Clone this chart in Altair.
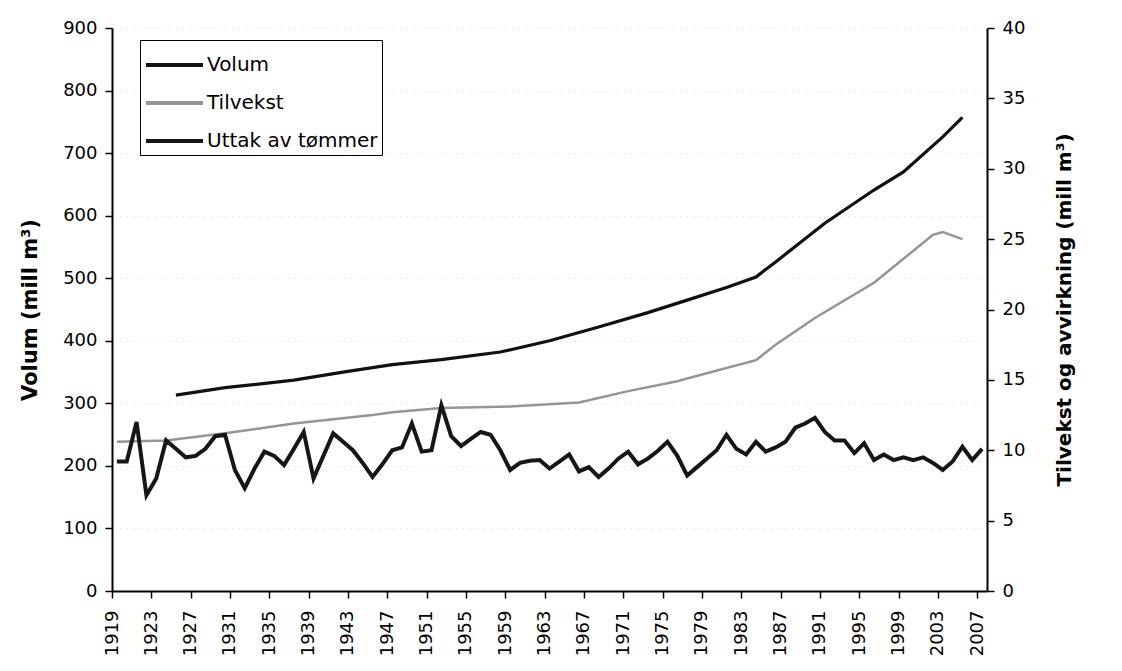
import altair as alt
import pandas as pd

# ---- data ----
uttak_years = list(range(1919, 2008))
uttak_values = [
    9.2, 9.2, 12.0, 6.8, 8.0, 10.7, 10.1, 9.5, 9.6, 10.1,   # 1919-1928
    11.0, 11.1, 8.6, 7.3, 8.7, 9.9, 9.6, 8.95, 10.1, 11.3,  # 1929-1938
    8.0, 9.6, 11.2, 10.6, 10.0, 9.1, 8.1, 9.0, 10.0, 10.2,  # 1939-1948
    11.9, 9.9, 10.0, 13.2, 11.0, 10.3, 10.8, 11.3, 11.1, 10.0,  # 1949-1958
    8.6, 9.1, 9.25, 9.3, 8.7, 9.2, 9.7, 8.5, 8.8, 8.1,      # 1959-1968
    8.7, 9.4, 9.9, 9.0, 9.4, 9.95, 10.6, 9.6, 8.2, 8.8,     # 1969-1978
    9.4, 10.0, 11.1, 10.1, 9.7, 10.6, 9.9, 10.2, 10.6, 11.6,  # 1979-1988
    11.9, 12.3, 11.3, 10.7, 10.7, 9.8, 10.5, 9.3, 9.7, 9.3,   # 1989-1998
    9.5, 9.3, 9.5, 9.1, 8.6, 9.2, 10.25, 9.3, 10.1,           # 1999-2007
]

tilvekst_years = [1919, 1924, 1930, 1937, 1945, 1947, 1952, 1959, 1966, 1971,
                  1976, 1977, 1984, 1986, 1990, 1996, 2002, 2003, 2005]
tilvekst_values = [10.6, 10.7, 11.2, 11.9, 12.5, 12.7, 13.0, 13.1, 13.4, 14.2,
                   14.9, 15.1, 16.4, 17.5, 19.4, 21.9, 25.3, 25.5, 25.0]

volum_years = [1925, 1930, 1937, 1942, 1947, 1952, 1958, 1963, 1968, 1973,
               1977, 1981, 1984, 1986, 1991, 1996, 1999, 2003, 2005]
volum_values = [313, 325, 337, 350, 362, 370, 382, 400, 422, 445,
                465, 485, 502, 526, 588, 641, 670, 726, 757]

series_names = ["Volum", "Tilvekst", "Uttak av tømmer"]
series_colors = ["#111111", "#959595", "#161616"]

x_ticks = [1918.5 + 4 * k for k in range(23)]  # labelled 1919, 1923, ..., 2007

# ---- tables ----
df_vol = pd.DataFrame({"year": volum_years, "value": volum_values, "series": "Volum"})
df_til = pd.DataFrame({"year": tilvekst_years, "value": tilvekst_values, "series": "Tilvekst"})
df_utt = pd.DataFrame({"year": uttak_years, "value": uttak_values, "series": "Uttak av tømmer"})

FONT = "DejaVu Sans"

x_enc = alt.X(
    "year:Q",
    scale=alt.Scale(domain=[1918.5, 2007.5], nice=False, zero=False),
    axis=alt.Axis(
        values=x_ticks,
        labelExpr="format(datum.value + 0.5, 'd')",
        labelAngle=270,
        labelAlign="right",
        labelBaseline="middle",
        labelFontSize=18,
        labelPadding=12,
        tickSize=7,
        tickColor="black",
        tickWidth=1.5,
        domainColor="black",
        domainWidth=2,
        grid=False,
        title=None,
        labelOverlap=False,
    ),
)

color_enc = alt.Color(
    "series:N",
    scale=alt.Scale(domain=series_names, range=series_colors),
    legend=alt.Legend(
        title=None,
        orient="none",
        legendX=28,
        legendY=12,
        symbolType="M-1,0L2,0",
        symbolSize=1444,
        symbolStrokeWidth=4,
        labelFontSize=20,
        labelFont=FONT,
        labelColor="black",
        labelOffset=21,
        rowPadding=7,
        padding=4,
        strokeColor="black",
        fillColor="white",
        labelLimit=300,
    ),
)

left_axis = alt.Axis(
    values=list(range(0, 1000, 100)),
    labelFontSize=18,
    labelPadding=8,
    tickSize=7,
    tickColor="black",
    tickWidth=1.5,
    domainColor="black",
    domainWidth=2,
    title="Volum (mill m³)",
    titleFontSize=21,
    titleFontWeight="bold",
    titlePadding=22,
    grid=True,
    gridColor="#e6e6e6",
    gridDash=[2, 5],
    gridWidth=1,
)

right_axis = alt.Axis(
    orient="right",
    values=list(range(0, 45, 5)),
    labelFontSize=18,
    labelPadding=8,
    tickSize=7,
    tickColor="black",
    tickWidth=1.5,
    domainColor="black",
    domainWidth=2,
    title="Tilvekst og avvirkning (mill m³)",
    titleFontSize=20,
    titleFontWeight="bold",
    titleAngle=270,
    titlePadding=50,
    grid=False,
)

vol_layer = alt.Chart(df_vol).mark_line(strokeWidth=3.2).encode(
    x=x_enc,
    y=alt.Y("value:Q", scale=alt.Scale(domain=[0, 900], nice=False), axis=left_axis),
    color=color_enc,
)

til_layer = alt.Chart(df_til).mark_line(strokeWidth=2.5).encode(
    x=x_enc,
    y=alt.Y("value:Q", scale=alt.Scale(domain=[0, 40], nice=False), axis=right_axis),
    color=color_enc,
)

utt_layer = alt.Chart(df_utt).mark_line(strokeWidth=4, strokeJoin="miter").encode(
    x=x_enc,
    y=alt.Y("value:Q", scale=alt.Scale(domain=[0, 40], nice=False), axis=right_axis),
    color=color_enc,
)

chart = (
    alt.layer(vol_layer, alt.layer(til_layer, utt_layer))
    .resolve_scale(y="independent")
    .properties(
        width=875,
        height=563,
        autosize=alt.AutoSizeParams(type="none"),
        padding={"left": 104, "top": 20, "right": 127, "bottom": 76},
        background="white",
    )
    .configure(font=FONT)
    .configure_axis(labelColor="black", titleColor="black", labelFont=FONT, titleFont=FONT)
    .configure_view(stroke=None)
)

chart.save("out.html", embed_options={"renderer": "svg", "actions": False})
